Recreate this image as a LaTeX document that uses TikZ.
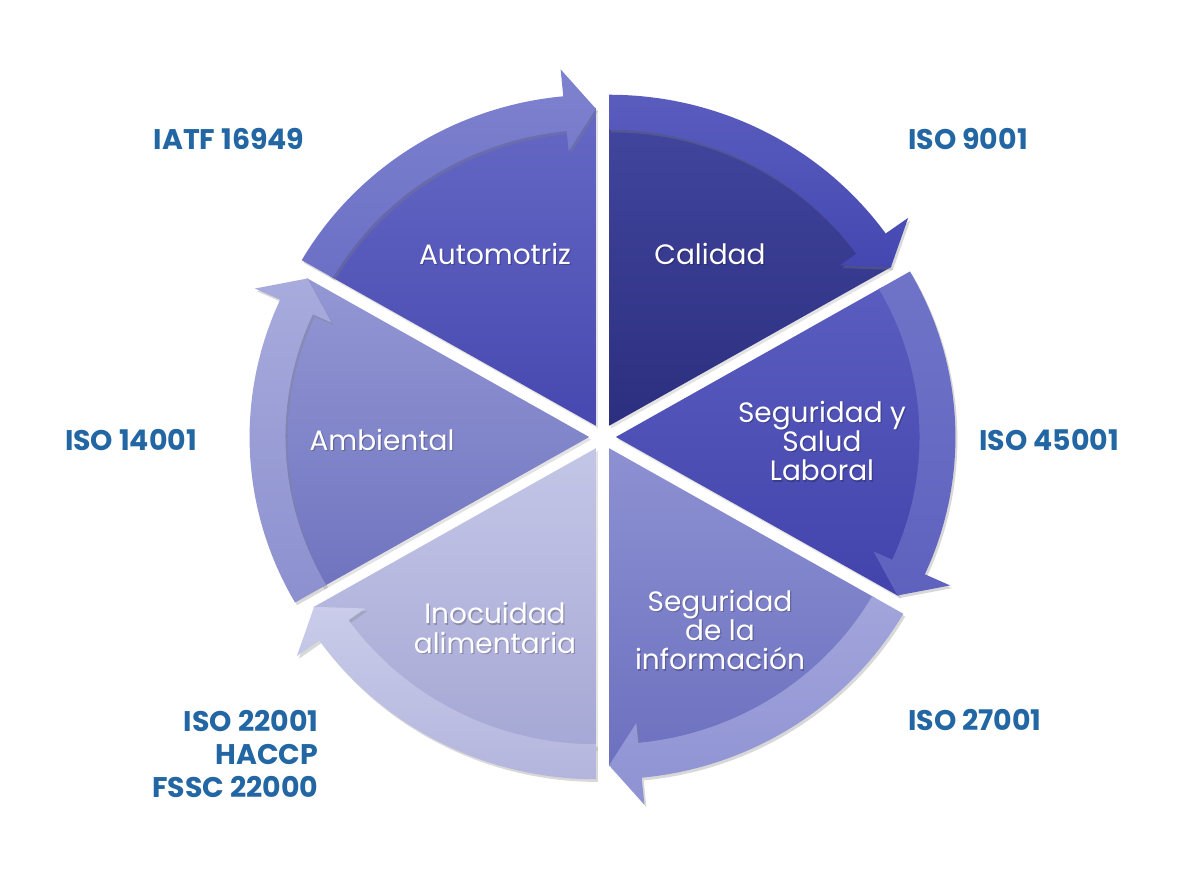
\documentclass[tikz,border=0pt]{standalone}
\usepackage{fontspec}
\setmainfont{Poppins}
\usetikzlibrary{shadows}
\definecolor{lbl}{HTML}{2266A3}
\definecolor{wAt}{HTML}{6569C4}\definecolor{wAb}{HTML}{4748B0}
\definecolor{bAt}{HTML}{7E82CE}\definecolor{bAb}{HTML}{6C70C6}
\definecolor{wCt}{HTML}{41459D}\definecolor{wCb}{HTML}{2C2F7F}
\definecolor{bCt}{HTML}{5A5DBE}\definecolor{bCb}{HTML}{4447B0}
\definecolor{wSt}{HTML}{5A5DBF}\definecolor{wSb}{HTML}{4243AC}
\definecolor{bSt}{HTML}{7074C8}\definecolor{bSb}{HTML}{5E62BE}
\definecolor{wIt}{HTML}{8D91D2}\definecolor{wIb}{HTML}{6C70BF}
\definecolor{bIt}{HTML}{A2A5DB}\definecolor{bIb}{HTML}{8E92D3}
\definecolor{wFt}{HTML}{C4C6E7}\definecolor{wFb}{HTML}{A6A8D5}
\definecolor{bFt}{HTML}{CACCEA}\definecolor{bFb}{HTML}{B3B5DD}
\definecolor{wEt}{HTML}{9397D4}\definecolor{wEb}{HTML}{7074BF}
\definecolor{bEt}{HTML}{A8ABDC}\definecolor{bEb}{HTML}{8C90CF}
\tikzset{
  wedgepart/.style={drop shadow={shadow xshift=1.5pt,shadow yshift=-2pt,opacity=.22}},
  bandpart/.style={drop shadow={shadow xshift=1.5pt,shadow yshift=-2pt,opacity=.30}},
  inner/.style={text=white,font=\fontsize{21}{22}\selectfont,align=center},
  innershadow/.style={text=black,opacity=.22,font=\fontsize{21}{22}\selectfont,align=center},
  outer/.style={text=lbl,font=\fontsize{21.3}{25}\selectfont\bfseries,align=center}
}
\begin{document}
\begin{tikzpicture}[x=0.75pt,y=0.75pt]
\useasboundingbox (0,0) rectangle (1200,895);
\fill[white] (0,0) rectangle (1200,895);
\begin{scope}[shift={(602.5,458)},xscale=1.026]
\foreach \a/\wt/\wb/\bt/\bb in {90/wAt/wAb/bAt/bAb, 30/wCt/wCb/bCt/bCb, -30/wSt/wSb/bSt/bSb, -90/wIt/wIb/bIt/bIb, -150/wFt/wFb/bFt/bFb, 150/wEt/wEb/bEt/bEb}{
  \begin{scope}[shift={({\a+30}:13)}]
    \path[wedgepart,top color=\wt,bottom color=\wb]
      (0,0) -- ({\a+60}:300) arc[start angle={\a+60},end angle={\a+5.5},radius=300]
      -- (\a:318) -- cycle;
    \path[bandpart,top color=\bt,bottom color=\bb]
      ({\a+60}:331) arc[start angle={\a+60},end angle={\a+5.5},radius=331]
      -- ({\a+5.5}:358) -- (\a:317) -- ({\a+5.5}:276) -- ({\a+5.5}:296)
      arc[start angle={\a+5.5},end angle={\a+60},radius=296] -- cycle;
  \end{scope}
}
\end{scope}
% inner labels (soft shadow copies first)
\node[innershadow] (sh1) at (496.2,639.8) {Automotriz};
\node[innershadow] (sh2) at (711.2,639.8) {Calidad};
\node[innershadow] (sh3) at (823.2,452.8) {Seguridad y\\Salud\\Laboral};
\node[innershadow] (sh4) at (721.2,263.8) {Seguridad\\de la\\información};
\node[innershadow] (sh5) at (496.2,265.8) {Inocuidad\\alimentaria};
\node[innershadow] (sh6) at (383.2,453.8) {Ambiental};
\node[inner] (auto) at (495,641) {Automotriz};
\node[inner] (cal) at (710,641) {Calidad};
\node[inner] (ssl) at (822,454) {Seguridad y\\Salud\\Laboral};
\node[inner] (sinfo) at (720,265) {Seguridad\\de la\\información};
\node[inner] (inoc) at (495,267) {Inocuidad\\alimentaria};
\node[inner] (amb) at (382,455) {Ambiental};
% outer labels
\node[outer] (iatf) at (229,756) {IATF 16949};
\node[outer] (i9001) at (968,756) {ISO 9001};
\node[outer] (i45001) at (1049,455) {ISO 45001};
\node[outer] (i27001) at (975,175) {ISO 27001};
\node[outer] (i14001) at (131,455) {ISO 14001};
\node[outer,anchor=east,align=right] (i22001) at (323,141) {ISO 22001\\HACCP\\FSSC 22000};
\end{tikzpicture}
\end{document}
